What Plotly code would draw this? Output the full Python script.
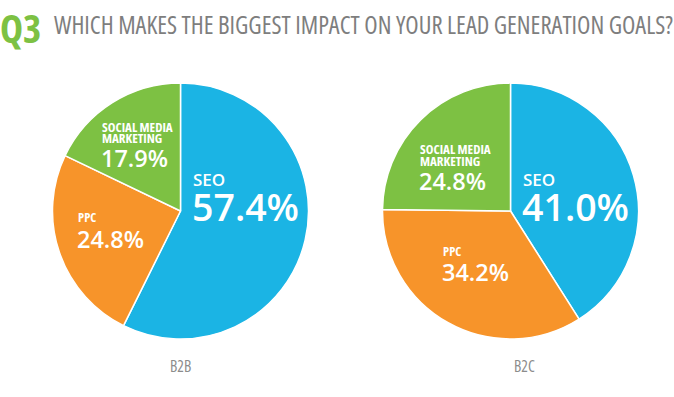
import plotly.graph_objects as go

# ---- data ----
categories = ["SEO", "PPC", "SOCIAL MEDIA<br>MARKETING"]
b2b_values = [57.4, 24.8, 17.9]
b2c_values = [41.0, 34.2, 24.8]
chart_names = ["B2B", "B2C"]
title_q = "Q3"
title_text = "WHICH MAKES THE BIGGEST IMPACT ON YOUR LEAD GENERATION GOALS?"

# ---- style ----
W, H = 674, 397
colors = ["#1BB4E4", "#F7942A", "#7DC143"]
FONT = "Open Sans"


def styled(t, weight=400, stretch=75):
    return "<span style='font-stretch:%s%%;font-weight:%d'>%s</span>" % (stretch, weight, t)


def px(x):
    return x / W


def py(y):
    return 1 - y / H


fig = go.Figure()
domains = [([52, 309], [83, 339]), ([382, 639], [83, 339])]
for vals, name, (dx, dy) in zip([b2b_values, b2c_values], chart_names, domains):
    fig.add_trace(go.Pie(
        labels=[c.replace("<br>", " ") for c in categories], values=vals, name=name,
        sort=False, direction="clockwise", rotation=0,
        marker=dict(colors=colors, line=dict(color="white", width=1.5)),
        textinfo="none", showlegend=False,
        domain=dict(x=[px(dx[0]), px(dx[1])], y=[py(dy[1]), py(dy[0])]),
    ))

ann = []
# per chart, per category: left x, label line cap-middle ys, value cap-middle y,
# label size, label stretch, value size
label_pos = [
    {"SEO": (191, [179], 206.7, 17, 100, 37.5), "PPC": (76, [217.5], 238.5, 12.5, 75, 23.5),
     "SOCIAL MEDIA<br>MARKETING": (100, [126.5, 137.5], 158.3, 13, 75, 23.5)},
    {"SEO": (521, [179], 206.7, 17, 100, 37.5), "PPC": (441, [251.5], 272, 12.5, 75, 23.5),
     "SOCIAL MEDIA<br>MARKETING": (418, [149, 161], 181, 13, 75, 23.5)},
]
for ci, vals in enumerate([b2b_values, b2c_values]):
    for cat, v in zip(categories, vals):
        x, lys, vy, lfs, lst, vfs = label_pos[ci][cat]
        for line, ly in zip(cat.split("<br>"), lys):
            ann.append(dict(text=styled(line, 700 if lst == 75 else 600, lst), x=px(x), y=py(ly),
                            xref="paper", yref="paper", xanchor="left", yanchor="middle",
                            showarrow=False, font=dict(family=FONT, size=lfs, color="white")))
        ann.append(dict(text=styled("%.1f%%" % v, 600, 100), x=px(x - 1), y=py(vy),
                        xref="paper", yref="paper", xanchor="left", yanchor="middle",
                        showarrow=False, font=dict(family=FONT, size=vfs, color="white")))

# captions
for name, cx in zip(chart_names, [180.5, 524.5]):
    ann.append(dict(text=styled(name, 500, 87.5), x=px(cx), y=py(365.5), xref="paper", yref="paper",
                    xanchor="center", yanchor="middle", showarrow=False,
                    font=dict(family=FONT, size=15.5, color="#8C8C8C")))

# title
ann.append(dict(text=styled(title_q, 700, 75), x=px(-2), y=py(28), xref="paper", yref="paper",
                xanchor="left", yanchor="middle", showarrow=False,
                font=dict(family=FONT, size=39, color="#7DC143")))
ann.append(dict(text=styled(title_text, 400, 75), x=px(52), y=py(24), xref="paper", yref="paper",
                xanchor="left", yanchor="middle", showarrow=False,
                font=dict(family=FONT, size=24.5, color="#7E7E7E")))

fig.update_layout(width=W, height=H, margin=dict(l=0, r=0, t=0, b=0),
                  paper_bgcolor="white", plot_bgcolor="white", annotations=ann)
fig.write_html("out.html", config={"displayModeBar": False},
               post_script="document.body.style.margin='0';")
